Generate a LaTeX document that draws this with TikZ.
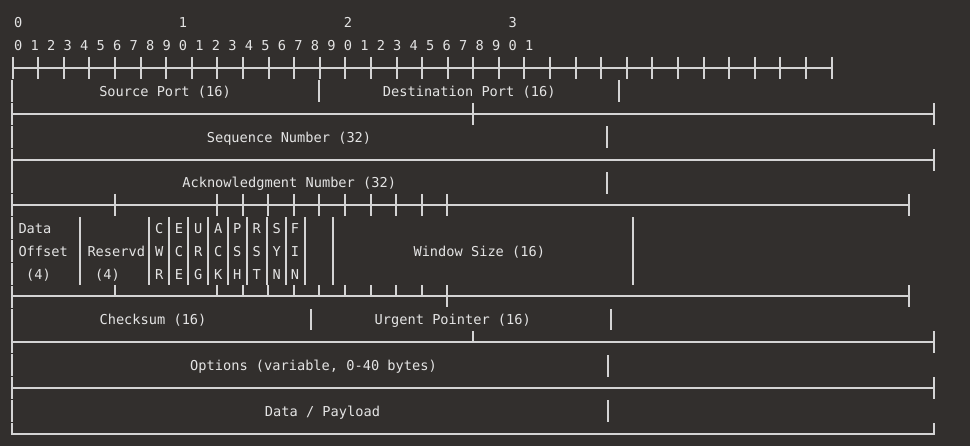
\documentclass[tikz,border=0pt]{standalone}
\usepackage{fontspec}
\setmonofont{DejaVu Sans Mono}
\usetikzlibrary{calc, backgrounds}

\definecolor{termbg}{RGB}{50,47,45}
\definecolor{termfg}{RGB}{228,228,228}
\definecolor{boxline}{RGB}{212,212,212}

\tikzset{
  rule/.style={boxline, line width=1.8pt},
  bar/.style={boxline, line width=1.7pt},
  txt/.style={termfg, inner sep=0pt, anchor=base, font=\ttfamily\fontsize{13.65}{16}\selectfont},
  txtleft/.style={txt, anchor=base west},
}

\begin{document}
\begin{tikzpicture}[x=1pt, y=-1pt]
\fill[termbg] (0,0) rectangle (970,446);
\useasboundingbox (0,0) rectangle (970,446);

\pgfmathsetmacro{\bitW}{16.48}
\pgfmathsetmacro{\tickW}{25.59}
\pgfmathsetmacro{\edgeX}{12}

% Draw bit numbers
\foreach \t in {0,...,3}
  \node[txt] (dec\t) at (18.3+\bitW*\t*10, 27.6) {\t};
\foreach \k in {0,...,31} {
  \pgfmathtruncatemacro{\digit}{mod(\k,10)}
  \node[txt] (bit\k) at (18.3+\bitW*\k, 50.6) {\digit};
}

% Draw ruler
\draw[rule] (13,68) -- (832,68);
\foreach \k in {0,...,32} {
  \pgfmathsetmacro{\tx}{round(12.7+\tickW*\k)}
  \draw[bar] (\tx,57) -- (\tx,79);
}

% Draw left edge
\foreach \r in {4,...,18} {
  \pgfmathsetmacro{\yc}{round(22.3+22.87*(\r-1))}
  \draw[bar] (\edgeX,\yc-10.8) -- (\edgeX,\yc+10.8);
}

% Draw separator lines
\foreach \y/\xe in {114/934, 160/934, 205/909, 296/909, 342/934, 388/934} {
  \draw[rule] (\edgeX,\y) -- (\xe,\y);
  \draw[bar] (\xe,\y-10.8) -- (\xe,\y+10.8);
}
\draw[rule] (\edgeX,423.4) -- (\edgeX,434) -- (934,434) -- (934,423.4);

% Draw ticks on separators
\draw[bar] (473,103) -- (473,125);
\foreach \x in {115,217,243,268,294,319,345,371,396,422,447}
  \draw[bar] (\x,194) -- (\x,216);
\foreach \x in {115,217,243,268,294,319,345,371,396,422}
  \draw[bar] (\x,285.5) -- (\x,296);
\draw[bar] (447,285.5) -- (447,307);
\draw[bar] (473,331.5) -- (473,342);

% Draw field bars
\foreach \x in {319,619}
  \draw[bar] (\x,80.4) -- (\x,102);
\foreach \y in {137,183}
  \draw[bar] (607,\y-10.8) -- (607,\y+10.8);
\foreach \x in {80,149,169,188,208,228,247,267,286,305,333,633}
  \draw[bar] (\x,217.4) -- (\x,284.6);
\foreach \x in {311,611}
  \draw[bar] (\x,308.8) -- (\x,330.4);
\foreach \y in {366,411}
  \draw[bar] (608,\y-10.8) -- (608,\y+10.8);

% Draw field names
\node[txt] (srcport) at (165,96.4) {Source Port (16)};
\node[txt] (dstport) at (469.2,96.4) {Destination Port (16)};
\node[txt] (seqnum) at (289,142.2) {Sequence Number (32)};
\node[txt] (acknum) at (289.2,187.9) {Acknowledgment Number (32)};

\node[txtleft] (offset1) at (18.3,233.6) {Data};
\node[txtleft] (offset2) at (18.3,256.4) {Offset};
\node[txt] (offset3) at (38.5,279.2) {(4)};
\node[txtleft] (resvd) at (87.3,256.4) {Reservd};
\node[txt] (resvdlen) at (107.5,279.2) {(4)};

\foreach \x/\a/\b/\c [count=\i] in {159.3/C/W/R, 179/E/C/E, 198.3/U/R/G, 218.3/A/C/K,
    237.3/P/S/H, 256.7/R/S/T, 276.7/S/Y/N, 295/F/I/N} {
  \node[txt] (flag\i a) at (\x,233.6) {\a};
  \node[txt] (flag\i b) at (\x,256.4) {\b};
  \node[txt] (flag\i c) at (\x,279.2) {\c};
}
\node[txt] (window) at (479.3,256.4) {Window Size (16)};

\node[txt] (checksum) at (153,325) {Checksum (16)};
\node[txt] (urgent) at (452.8,325) {Urgent Pointer (16)};
\node[txt] (options) at (313.5,370.7) {Options (variable, 0-40 bytes)};
\node[txt] (payload) at (322.5,416.4) {Data / Payload};
\end{tikzpicture}
\end{document}
